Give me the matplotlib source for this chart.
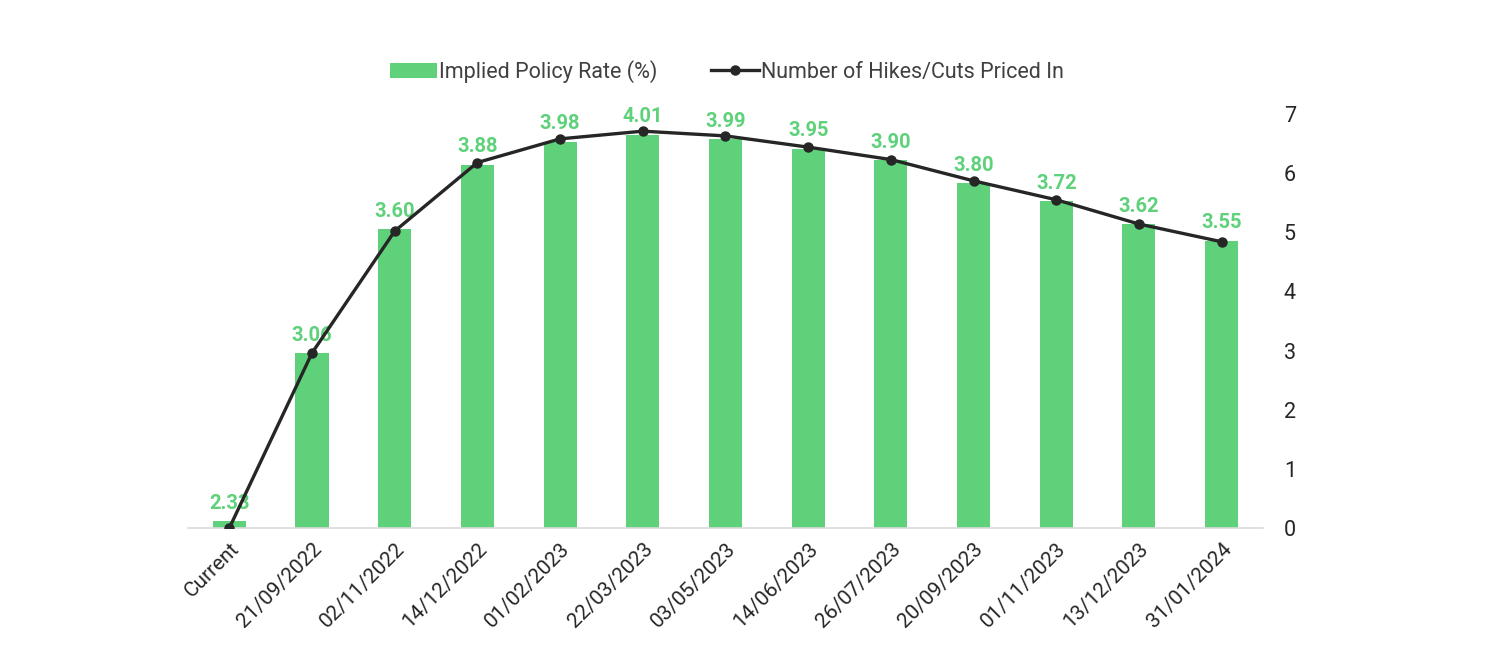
import numpy as np
import matplotlib.pyplot as plt

plt.rcParams['font.family'] = ['Roboto', 'DejaVu Sans']

# 数据
categories = ['Current', '21/09/2022', '02/11/2022', '14/12/2022', '01/02/2023',
              '22/03/2023', '03/05/2023', '14/06/2023', '26/07/2023', '20/09/2023',
              '01/11/2023', '13/12/2023', '31/01/2024']
policy_rate = [2.33, 3.06, 3.60, 3.88, 3.98, 4.01, 3.99, 3.95, 3.90, 3.80, 3.72, 3.62, 3.55]
hikes_priced = [0.0, 2.96, 5.02, 6.18, 6.58, 6.71, 6.63, 6.44, 6.23, 5.87, 5.55, 5.14, 4.84]

bar_color = '#5ED17A'
line_color = '#262626'

fig = plt.figure(figsize=(14.92, 6.66), dpi=100)
ax = fig.add_axes([0.126, 0.2072, 0.7205, 0.6216])
x = np.arange(len(categories))

# 柱状图（左轴隐藏）
base = 2.3
ax.bar(x, np.array(policy_rate) - base, bottom=base, width=0.4,
       color=bar_color, label='Implied Policy Rate (%)', zorder=2)
ax.set_ylim(base, 4.1)
ax.set_xlim(-0.5, len(categories) - 0.5)
ax.set_yticks([])
for s in ['left', 'right', 'top']:
    ax.spines[s].set_visible(False)
ax.spines['bottom'].set_color('#d9d9d9')
ax.spines['bottom'].set_linewidth(1.2)
ax.set_xticks(x)
ax.set_xticklabels(categories, rotation=45, ha='right', rotation_mode='anchor',
                   fontsize=15, color='#262626')
ax.tick_params(axis='x', length=0, pad=8)

# 数据标签
for xi, v in zip(x, policy_rate):
    ax.annotate(f'{v:.2f}', (xi, v), xytext=(0, 6), textcoords='offset points',
                ha='center', va='bottom', fontsize=14.5, fontweight='bold',
                color=bar_color, zorder=1)

# 折线图（右轴）
ax2 = ax.twinx()
ax2.plot(x, hikes_priced, color=line_color, linewidth=2.4, marker='o',
         markersize=6.5, label='Number of Hikes/Cuts Priced In', zorder=3)
ax2.set_ylim(0, 7)
ax2.set_yticks(range(0, 8))
ax2.tick_params(axis='y', length=0, labelsize=15.5, pad=15, labelcolor='#262626')
for s in ['left', 'right', 'top', 'bottom']:
    ax2.spines[s].set_visible(False)

# 图例
h1, l1 = ax.get_legend_handles_labels()
h2, l2 = ax2.get_legend_handles_labels()
fig.legend(h1 + h2, l1 + l2, loc='center', bbox_to_anchor=(0.487, 0.893),
           ncol=2, frameon=False, fontsize=15.5, handlelength=2.2,
           handletextpad=0.1, columnspacing=2.5, labelcolor='#404040')

plt.savefig('out.png', dpi=100)
